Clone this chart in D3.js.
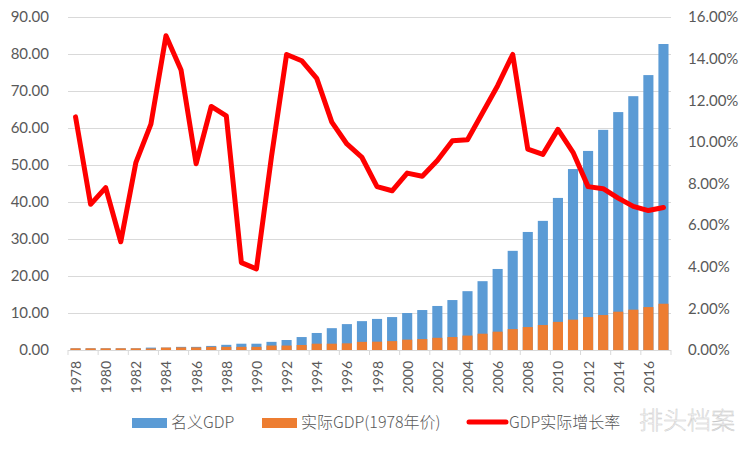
<!DOCTYPE html>
<html>
<head>
<meta charset="utf-8">
<script src="https://cdn.jsdelivr.net/npm/d3@7"></script>
<style>
  html, body { margin: 0; padding: 0; background: #fff; }
  svg { display: block; }
  text { font-family: Lato, "Noto Sans CJK SC", sans-serif; fill: #595959; }
  .axis text { font-size: 15px; }
  .axis path, .axis line { stroke: #d9d9d9; }
  .grid line { stroke: #d9d9d9; }
  .legend text { font-family: "Noto Sans CJK SC", sans-serif; font-size: 16px; font-weight: 300; }
</style>
</head>
<body>
<svg id="chart" width="747" height="449"></svg>
<script>
var years = d3.range(1978, 2018);
var nominalGdp = [0.45, 0.45, 0.45, 0.45, 0.45, 0.65, 0.65, 0.85, 0.85, 1.1,
  1.4, 1.7, 1.7, 2.2, 2.7, 3.5, 4.6, 5.9, 7.0, 7.8,
  8.4, 8.9, 10.0, 10.8, 11.9, 13.5, 15.9, 18.6, 21.9, 26.8,
  31.9, 34.9, 41.1, 48.9, 53.8, 59.5, 64.3, 68.6, 74.3, 82.7];
var realGdp = [0.45, 0.45, 0.45, 0.45, 0.45, 0.4, 0.65, 0.7, 0.7, 0.85,
  0.85, 0.85, 0.85, 1.2, 1.2, 1.35, 1.7, 1.7, 1.8, 2.2,
  2.25, 2.4, 2.8, 2.95, 3.3, 3.5, 3.9, 4.4, 4.95, 5.65,
  6.2, 6.75, 7.6, 8.2, 8.9, 9.45, 10.35, 10.9, 11.6, 12.5];
var growthRate = [11.2, 7.0, 7.8, 5.2, 9.0, 10.85, 15.1, 13.45, 8.95, 11.7,
  11.25, 4.2, 3.9, 9.3, 14.2, 13.9, 13.05, 10.95, 9.9, 9.25,
  7.85, 7.65, 8.5, 8.35, 9.1, 10.05, 10.1, 11.4, 12.7, 14.2,
  9.65, 9.4, 10.6, 9.5, 7.85, 7.75, 7.3, 6.9, 6.7, 6.85];
var leftTicks = [0, 10, 20, 30, 40, 50, 60, 70, 80, 90];
var rightTicks = [0, 2, 4, 6, 8, 10, 12, 14, 16];
var legendNames = ["名义GDP", "实际GDP(1978年价)", "GDP实际增长率"];

var margin = {top: 17, right: 76, bottom: 99, left: 68};
var width = 747 - margin.left - margin.right;
var height = 449 - margin.top - margin.bottom;

var x = d3.scaleBand().domain(years).range([0, width]).paddingInner(0.33).paddingOuter(0.165);
var yLeft = d3.scaleLinear().domain([0, 90]).range([height, 0]);
var yRight = d3.scaleLinear().domain([0, 16]).range([height, 0]);

var svg = d3.select("#chart").append("g")
  .attr("transform", "translate(" + margin.left + "," + margin.top + ")");

// gridlines follow the left axis
svg.append("g").attr("class", "grid")
  .selectAll("line").data(leftTicks.slice(1)).join("line")
  .attr("x1", 0).attr("x2", width)
  .attr("y1", function(d) { return Math.round(yLeft(d)) + 0.5; })
  .attr("y2", function(d) { return Math.round(yLeft(d)) + 0.5; });

svg.selectAll("rect.nominal").data(years).join("rect")
  .attr("class", "nominal")
  .attr("x", function(d) { return x(d); })
  .attr("width", x.bandwidth())
  .attr("y", function(d, i) { return yLeft(nominalGdp[i]); })
  .attr("height", function(d, i) { return height - yLeft(nominalGdp[i]); })
  .attr("fill", "#5b9bd5");

svg.selectAll("rect.real").data(years).join("rect")
  .attr("class", "real")
  .attr("x", function(d) { return x(d); })
  .attr("width", x.bandwidth())
  .attr("y", function(d, i) { return yLeft(realGdp[i]); })
  .attr("height", function(d, i) { return height - yLeft(realGdp[i]); })
  .attr("fill", "#ed7d31");

var line = d3.line()
  .x(function(d, i) { return x(years[i]) + x.bandwidth() / 2; })
  .y(function(d) { return yRight(d); })
  .curve(d3.curveLinear);

svg.append("path").datum(growthRate)
  .attr("d", line)
  .attr("fill", "none")
  .attr("stroke", "#ff0000")
  .attr("stroke-width", 5)
  .attr("stroke-linecap", "round")
  .attr("stroke-linejoin", "round");

// axes
var yAxisLeft = d3.axisLeft(yLeft).tickValues(leftTicks).tickSize(0).tickPadding(19)
  .tickFormat(d3.format(".2f"));
var yAxisRight = d3.axisRight(yRight).tickValues(rightTicks).tickSize(0).tickPadding(17)
  .tickFormat(function(d) { return d3.format(".2f")(d) + "%"; });

svg.append("g").attr("class", "axis").call(yAxisLeft).call(function(g) { g.select(".domain").remove(); });
svg.append("g").attr("class", "axis").attr("transform", "translate(" + width + ",0)")
  .call(yAxisRight).call(function(g) { g.select(".domain").remove(); });

var xAxis = d3.axisBottom(x)
  .tickValues(years.filter(function(d) { return (d - 1978) % 2 === 0; }))
  .tickSize(0).tickSizeOuter(0);

var xg = svg.append("g").attr("class", "axis")
  .attr("transform", "translate(0," + height + ")")
  .call(xAxis);
xg.select(".domain").attr("d", "M0,0.5H" + width);
xg.selectAll(".tick text")
  .attr("transform", "rotate(-90)")
  .attr("text-anchor", "end")
  .attr("dx", -11)
  .attr("dy", 0)
  .attr("x", 0)
  .attr("y", 5.5)
  .style("font-size", "14px");

// tick marks sit on the band edges, every two years
var step = x.step();
xg.selectAll("line.edge").data(d3.range(0, years.length + 1, 2))
  .join("line").attr("class", "edge")
  .attr("x1", function(d) { return d * step; })
  .attr("x2", function(d) { return d * step; })
  .attr("y1", 0).attr("y2", 5);

// legend
var legend = d3.select("#chart").append("g").attr("class", "legend");
legend.append("rect").attr("x", 132).attr("y", 418).attr("width", 35).attr("height", 10).attr("fill", "#5b9bd5");
legend.append("text").attr("x", 171).attr("y", 428).text(legendNames[0]);
legend.append("rect").attr("x", 262).attr("y", 418).attr("width", 35).attr("height", 10).attr("fill", "#ed7d31");
legend.append("text").attr("x", 301).attr("y", 428).text(legendNames[1]);
legend.append("line").attr("x1", 469).attr("x2", 506).attr("y1", 422).attr("y2", 422)
  .attr("stroke", "#ff0000").attr("stroke-width", 5).attr("stroke-linecap", "round");
legend.append("text").attr("x", 509).attr("y", 428).text(legendNames[2]);

// watermark
d3.select("#chart").append("text")
  .attr("x", 639).attr("y", 429)
  .style("font-family", '"Noto Sans CJK SC", sans-serif')
  .style("font-size", "24px")
  .style("font-weight", 300)
  .style("fill", "#f4f4f4")
  .style("stroke", "#c8c8c8")
  .style("stroke-width", 0.4)
  .text("排头档案");
</script>
</body>
</html>
